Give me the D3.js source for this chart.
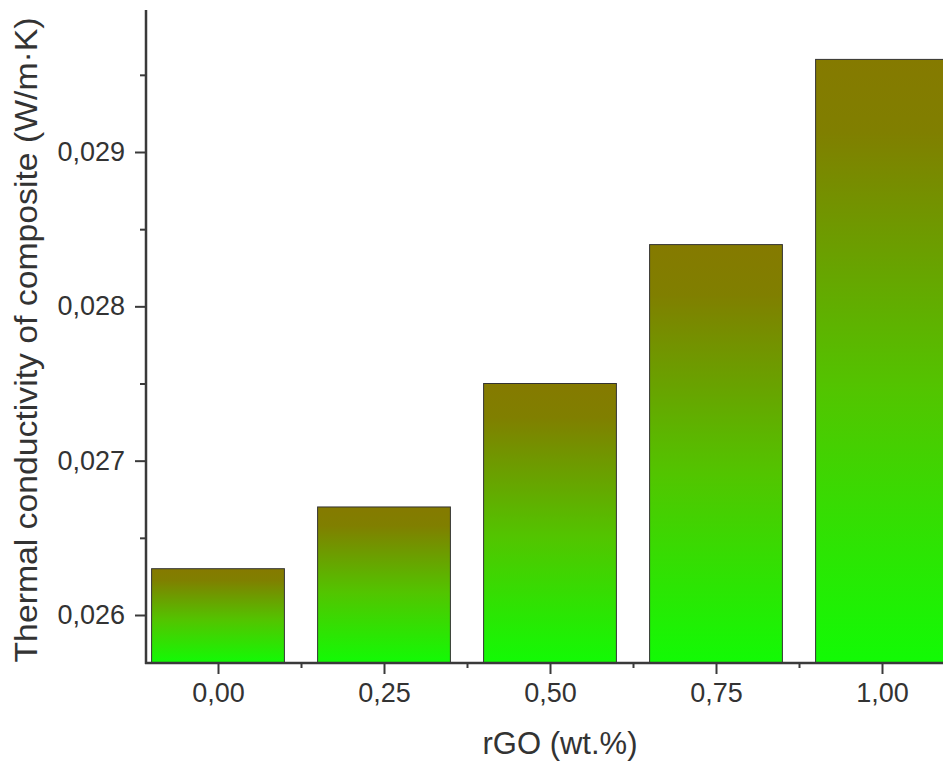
<!DOCTYPE html>
<html><head><meta charset="utf-8">
<script src="https://cdn.jsdelivr.net/npm/d3@7"></script>
<style>html,body{margin:0;padding:0;background:#fff;overflow:hidden}</style>
</head><body>
<script>
const categories = [0, 0.25, 0.5, 0.75, 1.0];
const categoryLabels = ["0,00", "0,25", "0,50", "0,75", "1,00"];
const conductivity = [0.0263, 0.0267, 0.0275, 0.0284, 0.0296];
const yTicks = [0.026, 0.027, 0.028, 0.029];
const yTickLabels = ["0,026", "0,027", "0,028", "0,029"];
const yMinorTicks = [0.0265, 0.0275, 0.0285, 0.0295];
const xMinorTicks = [0.125, 0.375, 0.625, 0.875, 1.125];

const W = 943, H = 763;
const svg = d3.select("body").append("svg").attr("width", W).attr("height", H);
const axisColor = "#3a3a3a";
const font = "'Liberation Sans', Arial, sans-serif";

const x = d3.scaleLinear().domain([0, 1]).range([218, 882]);
const y = d3.scaleLinear().domain([0.026, 0.029]).range([615, 152]);
const xLeft = 146, yBottom = 663, yTop = 10;
const barW = x(0.2) - x(0);

const defs = svg.append("defs");
const grad = defs.append("linearGradient").attr("id", "barGrad")
  .attr("x1", 0).attr("y1", 0).attr("x2", 0).attr("y2", 1);
grad.append("stop").attr("offset", "0%").attr("stop-color", "#857a00");
grad.append("stop").attr("offset", "12%").attr("stop-color", "#807f00");
grad.append("stop").attr("offset", "55%").attr("stop-color", "#52c500");
grad.append("stop").attr("offset", "100%").attr("stop-color", "#12fb05");

defs.append("clipPath").attr("id", "plotClip")
  .append("rect").attr("x", xLeft).attr("y", 0).attr("width", W - xLeft).attr("height", yBottom);

svg.append("g").attr("clip-path", "url(#plotClip)")
  .selectAll("rect").data(categories).join("rect")
  .attr("x", (d) => x(d) - barW / 2)
  .attr("y", (d, i) => y(conductivity[i]))
  .attr("width", barW)
  .attr("height", (d, i) => yBottom - y(conductivity[i]))
  .attr("fill", "url(#barGrad)")
  .attr("stroke", "#333")
  .attr("stroke-width", 1);

// Y axis
const yAxis = d3.axisLeft(y).tickValues(yTicks).tickSize(11).tickPadding(10)
  .tickFormat((d, i) => yTickLabels[i]);
const gy = svg.append("g").attr("transform", `translate(${xLeft},0)`).call(yAxis);
gy.select(".domain").remove();
gy.selectAll("line").attr("stroke", axisColor).attr("stroke-width", 2);
gy.selectAll("text").attr("fill", "#333").style("font-family", font).style("font-size", "27px");
const yMinor = d3.axisLeft(y).tickValues(yMinorTicks).tickSize(6).tickFormat("");
const gym = svg.append("g").attr("transform", `translate(${xLeft},0)`).call(yMinor);
gym.select(".domain").remove();
gym.selectAll("line").attr("stroke", axisColor).attr("stroke-width", 2);
svg.append("line").attr("x1", xLeft).attr("x2", xLeft).attr("y1", yTop).attr("y2", yBottom + 1)
  .attr("stroke", axisColor).attr("stroke-width", 2.5);

// X axis
const xAxis = d3.axisBottom(x).tickValues(categories).tickSize(11).tickPadding(9)
  .tickFormat((d, i) => categoryLabels[i]);
const gx = svg.append("g").attr("transform", `translate(0,${yBottom})`).call(xAxis);
gx.select(".domain").remove();
gx.selectAll("line").attr("stroke", axisColor).attr("stroke-width", 2);
gx.selectAll("text").attr("fill", "#333").style("font-family", font).style("font-size", "27px");
const xMinor = d3.axisBottom(x).tickValues(xMinorTicks).tickSize(5).tickFormat("");
const gxm = svg.append("g").attr("transform", `translate(0,${yBottom})`).call(xMinor);
gxm.select(".domain").remove();
gxm.selectAll("line").attr("stroke", axisColor).attr("stroke-width", 2);
svg.append("line").attr("x1", xLeft - 1).attr("x2", W).attr("y1", yBottom).attr("y2", yBottom)
  .attr("stroke", axisColor).attr("stroke-width", 2.5);

// Titles
svg.append("text").attr("x", 560).attr("y", 754)
  .attr("text-anchor", "middle").attr("fill", "#333")
  .style("font-family", font).style("font-size", "31px")
  .text("rGO (wt.%)");
svg.append("text").attr("transform", `translate(37,340) rotate(-90)`)
  .attr("text-anchor", "middle").attr("fill", "#333")
  .attr("textLength", 645).attr("lengthAdjust", "spacingAndGlyphs")
  .style("font-family", font).style("font-size", "31px")
  .text("Thermal conductivity of composite (W/m·K)");
</script>
</body></html>
